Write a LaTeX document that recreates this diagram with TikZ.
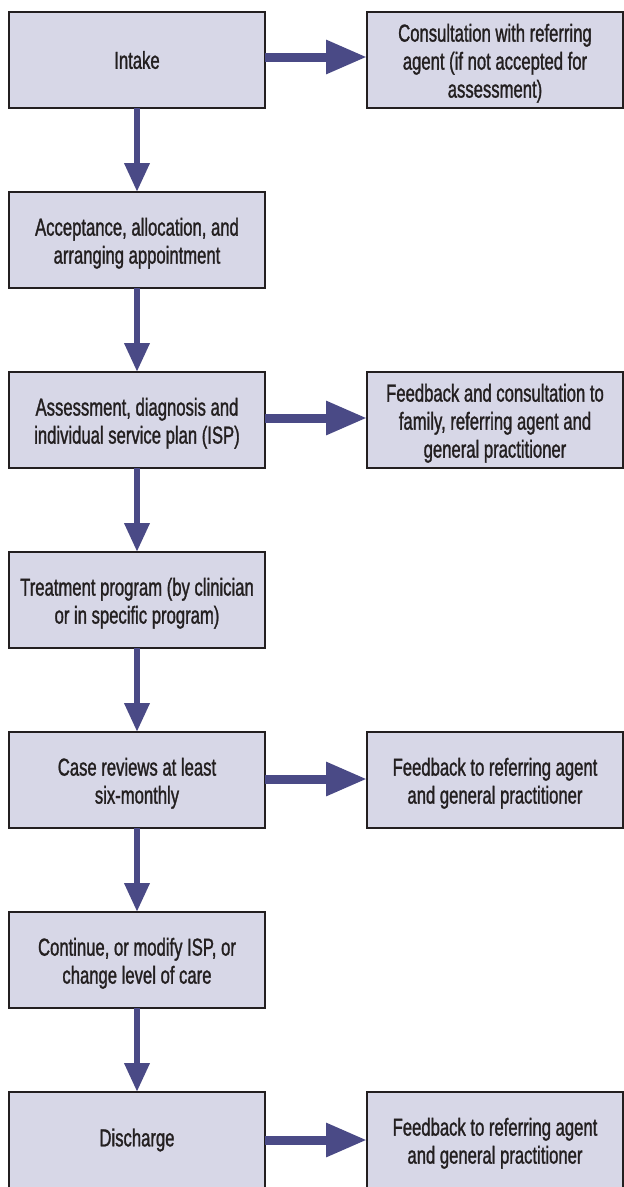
\documentclass[tikz,border=0pt]{standalone}
\usepackage{fontspec}
\setmainfont{Liberation Sans}[FakeStretch=0.68,FakeBold=1.2]
\usetikzlibrary{arrows.meta}
\definecolor{boxfill}{HTML}{D7D7E7}
\definecolor{flowblue}{HTML}{4A4A86}
\definecolor{ink}{HTML}{231F20}
% multi-line stage text, set a little below the box centre
\newcommand{\stagelines}[1]{\raisebox{-4pt}[\height][\depth]{\begin{tabular}{@{}c@{}}#1\end{tabular}}}
\tikzset{
  stage/.style={draw=ink, line width=2.2pt, fill=boxfill, text=ink,
    minimum width=256pt, minimum height=96pt, inner sep=0pt, outer sep=0pt,
    align=center, font=\fontsize{24.5}{28}\selectfont},
  downflow/.style={draw=flowblue, line width=6.7pt,
    -{Triangle[length=29pt,width=24pt]}},
  sideflow/.style={draw=flowblue, line width=9pt,
    -{Triangle[length=41pt,width=32pt]}}
}
\begin{document}
\begin{tikzpicture}[x=1pt,y=-1pt]
\useasboundingbox (0,0) rectangle (624,1187);
% main sequence of stages
\node[stage] (intake)  at (137,60)   {Intake};
\node[stage] (accept)  at (137,240)  {\stagelines{Acceptance, allocation, and\\arranging appointment}};
\node[stage] (assess)  at (137,420)  {\stagelines{Assessment, diagnosis and\\individual service plan (ISP)}};
\node[stage] (treat)   at (137,600)  {\stagelines{Treatment program (by clinician\\or in specific program)}};
\node[stage] (review)  at (137,780)  {\stagelines{Case reviews at least\\six-monthly}};
\node[stage] (modify)  at (137,960)  {\stagelines{Continue, or modify ISP, or\\change level of care}};
\node[stage] (dischg)  at (137,1140) {Discharge};
% side outcomes
\node[stage] (consult) at (495,60)   {\stagelines{Consultation with referring\\agent (if not accepted for\\assessment)}};
\node[stage] (fbfam)   at (495,420)  {\stagelines{Feedback and consultation to\\family, referring agent and\\general practitioner}};
\node[stage] (fbrev)   at (495,780)  {\stagelines{Feedback to referring agent\\and general practitioner}};
\node[stage] (fbdis)   at (495,1140) {\stagelines{Feedback to referring agent\\and general practitioner}};
% vertical flow
\draw[downflow] (intake) -- (accept);
\draw[downflow] (accept) -- (assess);
\draw[downflow] (assess) -- (treat);
\draw[downflow] (treat)  -- (review);
\draw[downflow] (review) -- (modify);
\draw[downflow] (modify) -- (dischg);
% side flow
\draw[sideflow] ([yshift=3pt]intake.east) -- ([yshift=3pt]consult.west);
\draw[sideflow] ([yshift=2pt]assess.east) -- ([yshift=2pt]fbfam.west);
\draw[sideflow] ([yshift=1pt]review.east) -- ([yshift=1pt]fbrev.west);
\draw[sideflow] (dischg) -- (fbdis);
\end{tikzpicture}
\end{document}
